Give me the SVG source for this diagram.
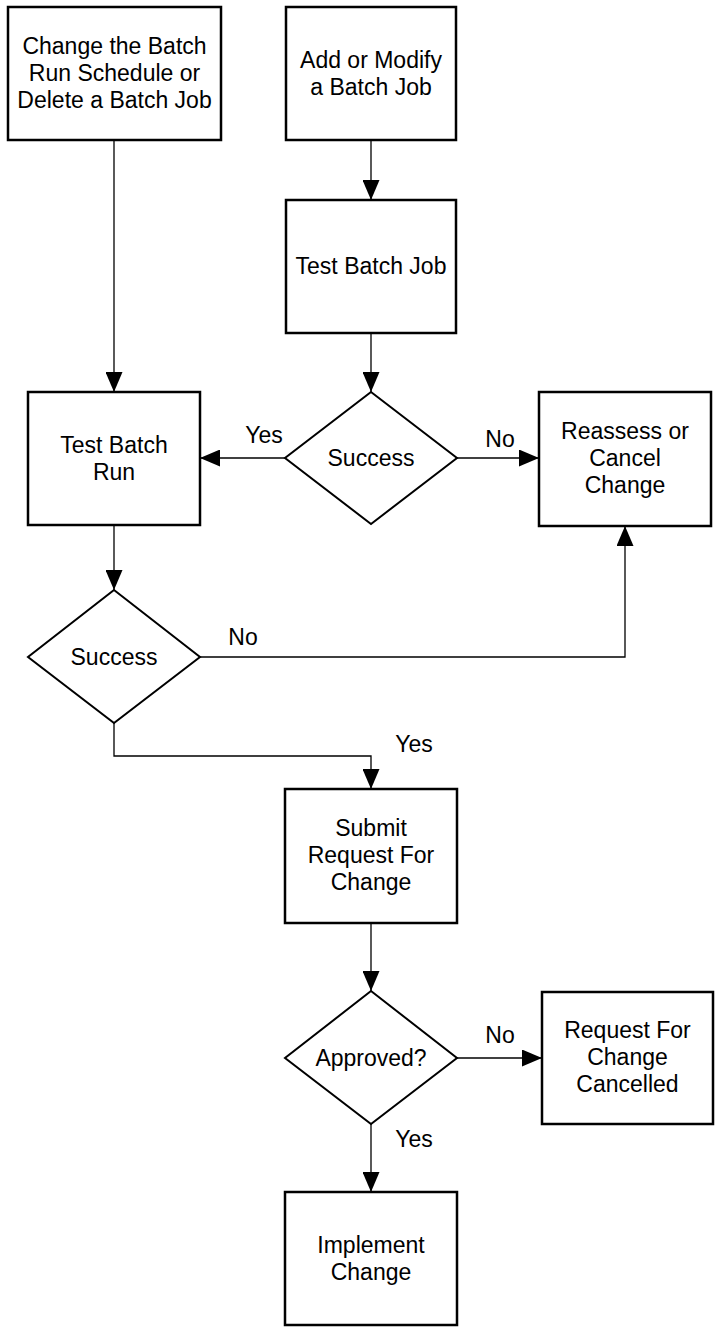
<svg xmlns="http://www.w3.org/2000/svg" width="718" height="1327" viewBox="0 0 718 1327">
  <style>
    .box { fill: #ffffff; stroke: #000000; stroke-width: 2.5; }
    .dec { fill: #ffffff; stroke: #000000; stroke-width: 2; }
    .lbl { font-family: "Liberation Sans", Arial, sans-serif; font-size: 23px; fill: #000000; text-anchor: middle; }
    .edge { fill: none; stroke: #000000; stroke-width: 1.3; marker-end: url(#arrow); }
    .edge-plain { fill: none; stroke: #000000; stroke-width: 1.3; }
  </style>
  <defs>
    <marker id="arrow" markerUnits="userSpaceOnUse" markerWidth="20" markerHeight="17" refX="20" refY="8.5" orient="auto">
      <path d="M0,0 L20,8.5 L0,17 Z" fill="#000000"/>
    </marker>
  </defs>
  <rect width="718" height="1327" fill="#ffffff"/>

  <!-- connectors -->
  <g id="connectors">
    <path class="edge" d="M114,140 L114,392"/>
    <path class="edge" d="M371,140 L371,200"/>
    <path class="edge" d="M371,333 L371,392"/>
    <path class="edge" d="M285,458 L200,458"/>
    <path class="edge" d="M457,458 L539,458"/>
    <path class="edge" d="M114,525 L114,590"/>
    <path class="edge" d="M200,657 L625,657 L625,526"/>
    <path class="edge" d="M114,723 L114,756 L371,756 L371,789"/>
    <path class="edge" d="M371,923 L371,991"/>
    <path class="edge" d="M457,1058 L542,1058"/>
    <path class="edge" d="M371,1124 L371,1192"/>
    <text class="lbl" x="264" y="443">Yes</text>
    <text class="lbl" x="500" y="447">No</text>
    <text class="lbl" x="243" y="645">No</text>
    <text class="lbl" x="414" y="752">Yes</text>
    <text class="lbl" x="500" y="1043">No</text>
    <text class="lbl" x="414" y="1147">Yes</text>
  </g>

  <g id="change-schedule">
    <rect class="box" x="8" y="7" width="213" height="133"/>
    <text class="lbl" x="114.5" y="53.5">Change the Batch</text>
    <text class="lbl" x="114.5" y="80.5">Run Schedule or</text>
    <text class="lbl" x="114.5" y="107.5">Delete a Batch Job</text>
  </g>

  <g id="add-modify">
    <rect class="box" x="286" y="7" width="170" height="133"/>
    <text class="lbl" x="371" y="68">Add or Modify</text>
    <text class="lbl" x="371" y="95">a Batch Job</text>
  </g>

  <g id="test-job">
    <rect class="box" x="286" y="200" width="170" height="133"/>
    <text class="lbl" x="371" y="274">Test Batch Job</text>
  </g>

  <g id="success-job">
    <polygon class="dec" points="371,392 457,458 371,524 285,458"/>
    <text class="lbl" x="371" y="466">Success</text>
  </g>

  <g id="test-run">
    <rect class="box" x="28" y="392" width="172" height="133"/>
    <text class="lbl" x="114" y="453">Test Batch</text>
    <text class="lbl" x="114" y="480">Run</text>
  </g>

  <g id="reassess">
    <rect class="box" x="539" y="392" width="172" height="134"/>
    <text class="lbl" x="625" y="439">Reassess or</text>
    <text class="lbl" x="625" y="466">Cancel</text>
    <text class="lbl" x="625" y="493">Change</text>
  </g>

  <g id="success-run">
    <polygon class="dec" points="114,590 200,657 114,723 28,657"/>
    <text class="lbl" x="114" y="665">Success</text>
  </g>

  <g id="submit-rfc">
    <rect class="box" x="285" y="789" width="172" height="134"/>
    <text class="lbl" x="371" y="836">Submit</text>
    <text class="lbl" x="371" y="863">Request For</text>
    <text class="lbl" x="371" y="890">Change</text>
  </g>

  <g id="approved">
    <polygon class="dec" points="371,991 457,1058 371,1124 285,1058"/>
    <text class="lbl" x="371" y="1066">Approved?</text>
  </g>

  <g id="rfc-cancelled">
    <rect class="box" x="542" y="992" width="171" height="132"/>
    <text class="lbl" x="627.5" y="1038">Request For</text>
    <text class="lbl" x="627.5" y="1065">Change</text>
    <text class="lbl" x="627.5" y="1092">Cancelled</text>
  </g>

  <g id="implement">
    <rect class="box" x="285" y="1192" width="172" height="133"/>
    <text class="lbl" x="371" y="1253">Implement</text>
    <text class="lbl" x="371" y="1280">Change</text>
  </g>
</svg>
